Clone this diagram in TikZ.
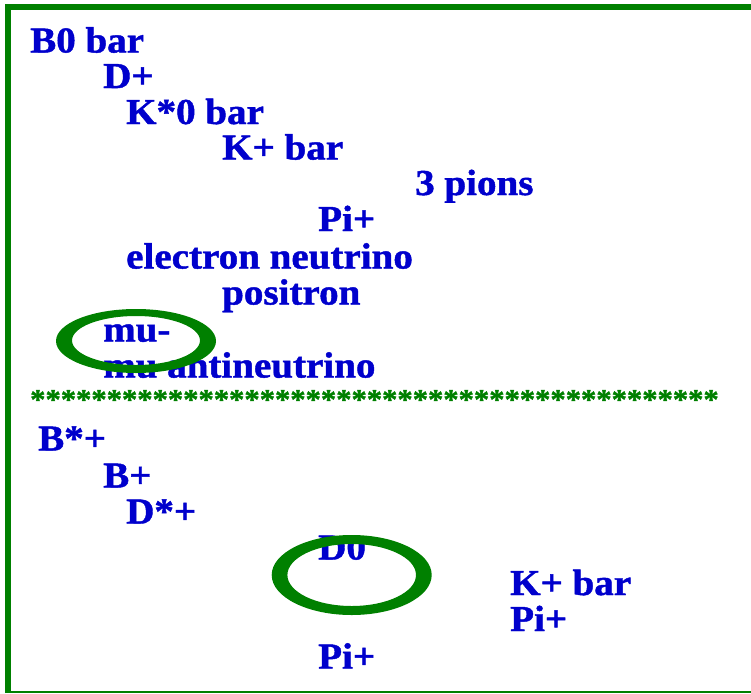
\documentclass[tikz,border=0pt]{standalone}
\usepackage{fontspec}
\setmainfont{Liberation Serif}[FakeStretch=1.07, BoldFeatures={FakeBold=1.2}]
\definecolor{decayblue}{RGB}{0,0,204}
\definecolor{ringgreen}{RGB}{0,128,0}

\begin{document}
\begin{tikzpicture}[
    x=1pt, y=-1pt,
    particle/.style={
        anchor=base west,
        inner sep=0pt,
        text=decayblue,
        font=\fontsize{36.5}{36.5}\selectfont\bfseries
    },
    separator/.style={
        anchor=base west,
        inner sep=0pt,
        text=ringgreen,
        font=\fontsize{28.6}{28.6}\selectfont\bfseries
    },
    ring/.style={
        fill=ringgreen,
        even odd rule
    },
    frame/.style={
        draw=ringgreen,
        line width=6pt
    }
]
    \useasboundingbox (0,0) rectangle (751,693);

    % FRAME
    \draw[frame] (8,693) -- (8,7) -- (751,7);
    \draw[ringgreen, line width=1.5pt] (8,692.2) -- (751,692.2);

    % FIRST DECAY CHAIN
    \node[particle] (bzerobar) at (30,52.5) {B0 bar};
    \node[particle] (dplus) at (103,88) {D+};
    \node[particle] (kstarbar) at (126,124) {K*0 bar};
    \node[particle] (kplusbar) at (222,159.5) {K+ bar};
    \node[particle] (threepi) at (415,195) {3 pions};
    \node[particle] (piplus) at (318,231) {Pi+};
    \node[particle] (enu) at (126,268.5) {electron neutrino};
    \node[particle] (positron) at (222,304.5) {positron};
    \node[particle] (muon) at (103,341.5) {mu-};
    \node[particle] (munubar) at (103,377.5) {mu antineutrino};

    % SEPARATOR
    \node[separator] (stars) at (30,409)
        {*********************************************};

    % SECOND DECAY CHAIN
    \node[particle] (bstar) at (38,450.5) {B*+};
    \node[particle] (bplus) at (103,487.5) {B+};
    \node[particle] (dstar) at (126,523.5) {D*+};
    \node[particle] (dzero) at (318,559.5) {D0};
    \node[particle] (kbartwo) at (510,595) {K+ bar};
    \node[particle] (pitwo) at (510,631) {Pi+};
    \node[particle] (pithree) at (318,668.5) {Pi+};

    % RINGS
    \coordinate (muring) at (136,341);
    \coordinate (dring) at (351.7,575);
    \fill[ring] (muring) ellipse [x radius=80, y radius=32]
        (136,340.5) ellipse [x radius=64, y radius=24.5];
    \fill[ring] (dring) ellipse [x radius=80, y radius=40]
        (dring) ellipse [x radius=64.3, y radius=31];

\end{tikzpicture}
\end{document}
